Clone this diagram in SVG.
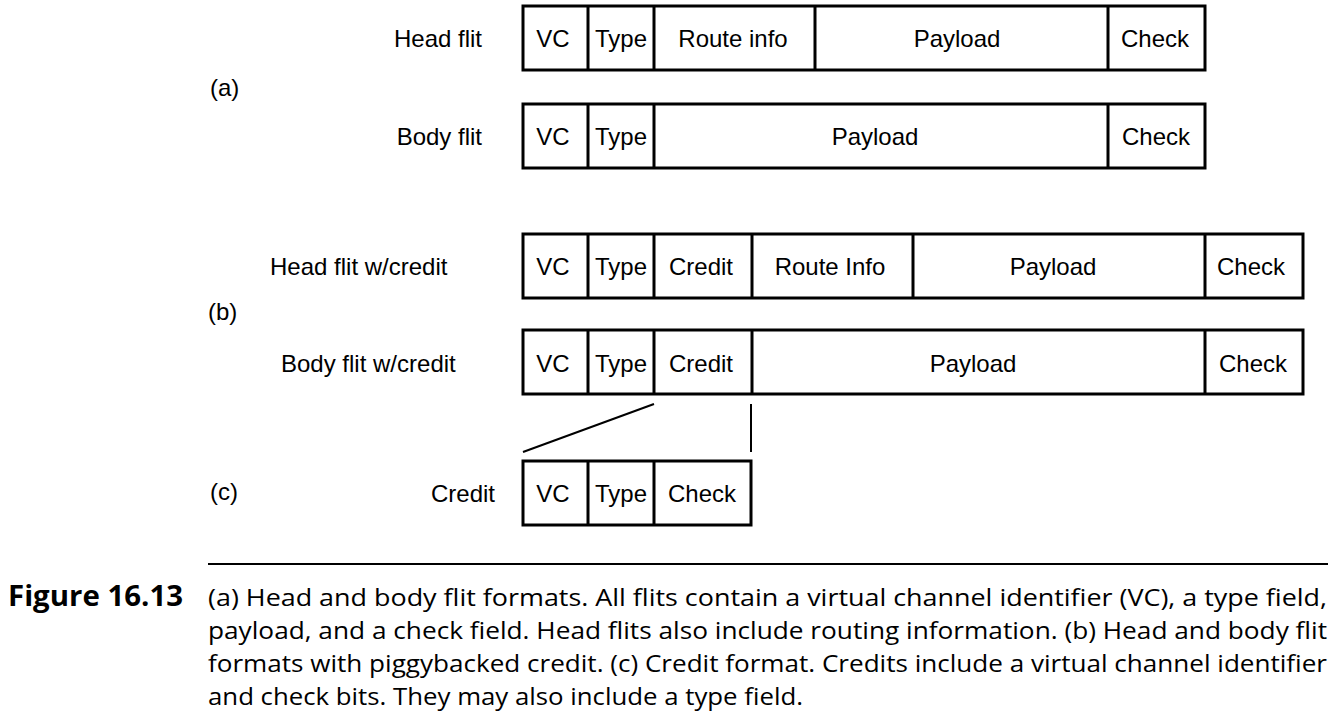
<svg xmlns="http://www.w3.org/2000/svg" width="1332" height="711" viewBox="0 0 1332 711">
<style>
.box{fill:#fff;stroke:#000;stroke-width:3}
.div{stroke:#000;stroke-width:3}
.t{font-family:"Liberation Sans",Arial,sans-serif;font-size:24px;fill:#000}
.m{text-anchor:middle}
.e{text-anchor:end}
.conn{stroke:#000;stroke-width:2;fill:none}
.cap{font-family:"Open Sans","Noto Sans",sans-serif;font-size:24px;fill:#000}
.fig{font-family:"Open Sans","Noto Sans",sans-serif;font-size:28px;font-weight:bold;fill:#000}
</style>
<g id="labels">
<text class="t e" x="482" y="47">Head flit</text>
<text class="t e" x="482" y="145">Body flit</text>
<text class="t" x="210" y="96">(a)</text>
<text class="t" x="270" y="275">Head flit w/credit</text>
<text class="t" x="208" y="320">(b)</text>
<text class="t" x="281" y="372">Body flit w/credit</text>
<text class="t" x="210" y="500">(c)</text>
<text class="t" x="431" y="502">Credit</text>
</g>
<g id="head-flit">
<rect class="box" x="523" y="6" width="682" height="64"/>
<path class="div" d="M588 6V70M654 6V70M815 6V70M1108 6V70"/>
<text class="t m" x="553" y="47">VC</text>
<text class="t m" x="621" y="47">Type</text>
<text class="t m" x="733" y="47">Route info</text>
<text class="t m" x="957" y="47">Payload</text>
<text class="t m" x="1155" y="47">Check</text>
</g>
<g id="body-flit">
<rect class="box" x="523" y="104" width="682" height="64"/>
<path class="div" d="M588 104V168M654 104V168M1108 104V168"/>
<text class="t m" x="553" y="145">VC</text>
<text class="t m" x="621" y="145">Type</text>
<text class="t m" x="875" y="145">Payload</text>
<text class="t m" x="1156" y="145">Check</text>
</g>
<g id="head-flit-credit">
<rect class="box" x="523" y="234" width="780" height="64"/>
<path class="div" d="M588 234V298M654 234V298M752 234V298M913 234V298M1205 234V298"/>
<text class="t m" x="553" y="275">VC</text>
<text class="t m" x="621" y="275">Type</text>
<text class="t m" x="701" y="275">Credit</text>
<text class="t m" x="830" y="275">Route Info</text>
<text class="t m" x="1053" y="275">Payload</text>
<text class="t m" x="1251" y="275">Check</text>
</g>
<g id="body-flit-credit">
<rect class="box" x="523" y="330" width="780" height="64"/>
<path class="div" d="M588 330V394M654 330V394M752 330V394M1205 330V394"/>
<text class="t m" x="553" y="372">VC</text>
<text class="t m" x="621" y="372">Type</text>
<text class="t m" x="701" y="372">Credit</text>
<text class="t m" x="973" y="372">Payload</text>
<text class="t m" x="1253" y="372">Check</text>
</g>
<g id="credit">
<rect class="box" x="523" y="461" width="228" height="64"/>
<path class="div" d="M588 461V525M654 461V525"/>
<text class="t m" x="553" y="502">VC</text>
<text class="t m" x="621" y="502">Type</text>
<text class="t m" x="702" y="502">Check</text>
</g>
<g id="connectors">
<line class="conn" x1="654" y1="404" x2="523" y2="452"/>
<line class="conn" x1="751" y1="404" x2="751" y2="452"/>
</g>
<g id="caption">
<line x1="208" y1="564" x2="1328" y2="564" stroke="#000" stroke-width="2"/>
<text class="fig" x="8" y="606" textLength="175" lengthAdjust="spacingAndGlyphs">Figure 16.13</text>
<text class="cap" x="208" y="606" textLength="1119" lengthAdjust="spacingAndGlyphs">(a) Head and body flit formats. All flits contain a virtual channel identifier (VC), a type field,</text>
<text class="cap" x="208" y="639" textLength="1119" lengthAdjust="spacingAndGlyphs">payload, and a check field. Head flits also include routing information. (b) Head and body flit</text>
<text class="cap" x="208" y="672" textLength="1119" lengthAdjust="spacingAndGlyphs">formats with piggybacked credit. (c) Credit format. Credits include a virtual channel identifier</text>
<text class="cap" x="208" y="705" textLength="595" lengthAdjust="spacingAndGlyphs">and check bits. They may also include a type field.</text>
</g>
</svg>
